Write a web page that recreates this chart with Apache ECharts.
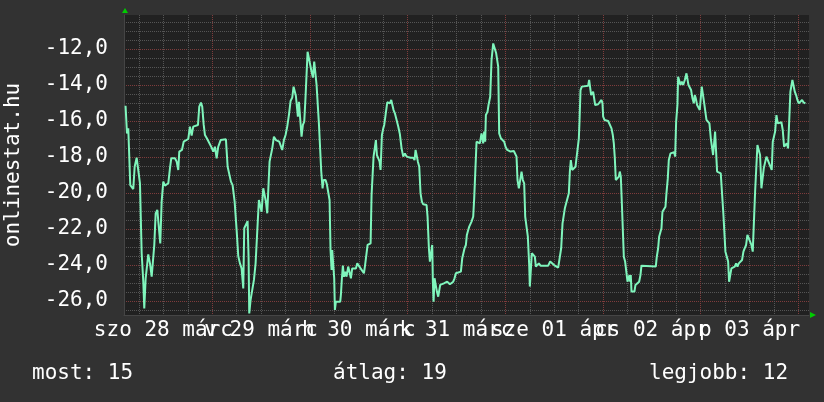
<!DOCTYPE html>
<html>
<head>
<meta charset="utf-8">
<script src="https://cdn.jsdelivr.net/npm/echarts@6/dist/echarts.min.js"></script>
<style>
html, body { margin: 0; padding: 0; background: #323232; }
#chart { width: 824px; height: 402px; }
</style>
</head>
<body>
<div id="chart"></div>
<script>
// hours since szo 28 márc 00:00
var hours = [
  2.7, 3.05, 3.37, 3.6, 3.86, 4.6, 4.94, 5.43, 5.92, 6.24, 6.66, 7.06, 7.3, 7.64, 7.96, 8.28, 8.7, 9.12, 9.36, 9.76,
  10.1, 10.5, 10.9, 11.23, 11.57, 11.97, 12.38, 12.8, 13.2, 13.61, 13.93, 14.84, 15.26, 15.65, 15.9, 16.56, 16.98, 18.11, 18.52, 18.94,
  19.33, 20.49, 20.81, 21.22, 21.54, 21.89, 22.21, 22.77, 23.26, 23.85, 24.25, 24.66, 25.08, 25.47, 26.06, 27.36, 27.78, 28.17, 28.59, 29.0,
  29.5, 29.99, 30.39, 30.8, 31.21, 31.62, 31.86, 32.27, 32.68, 32.93, 33.09, 33.42, 33.83, 34.24, 34.65, 35.05, 35.46, 35.87, 36.12, 36.53,
  36.94, 37.18, 37.51, 37.84, 38.08, 38.49, 38.74, 39.15, 39.64, 40.46, 40.87, 41.19, 41.6, 42.01, 42.42, 42.83, 43.24, 43.65, 43.98, 44.3,
  44.55, 44.8, 45.04, 45.29, 45.61, 45.94, 46.27, 46.6, 46.92, 47.17, 47.42, 47.82, 48.07, 48.4, 48.73, 49.05, 49.38, 49.63, 49.95, 50.2,
  50.53, 50.77, 51.1, 51.34, 51.84, 52.16, 52.49, 52.82, 53.06, 53.31, 53.47, 53.72, 53.96, 54.13, 54.37, 55.44, 55.6, 55.85, 56.09, 56.34,
  56.67, 56.99, 57.4, 57.81, 58.06, 58.38, 59.29, 59.62, 60.03, 60.44, 60.85, 61.26, 61.5, 61.91, 62.16, 62.9, 63.14, 63.39, 63.63, 63.96,
  64.2, 64.45, 64.78, 65.11, 65.35, 65.68, 66.01, 66.25, 66.66, 66.99, 67.32, 67.64, 67.97, 68.22, 68.54, 68.87, 69.28, 69.69, 70.1, 70.51,
  70.92, 71.33, 71.74, 72.72, 73.37, 73.7, 73.95, 74.27, 74.52, 74.85, 75.17, 75.5, 75.83, 76.65, 76.89, 77.22, 77.47, 77.79, 78.04, 78.2,
  78.37, 78.61, 78.94, 79.19, 79.51, 79.76, 80.0, 80.9, 81.72, 82.38, 83.2, 83.52, 83.85, 85.08, 85.41, 85.98, 86.31, 86.55, 86.88, 87.13,
  87.7, 88.11, 88.35, 88.68, 88.93, 89.74, 90.15, 90.56, 90.81, 91.05, 91.22, 91.63, 91.87, 92.28, 92.61, 93.02, 93.43, 93.75, 94.0, 94.25,
  94.49, 94.9, 95.72, 96.05, 96.46, 97.27, 97.6, 98.09, 98.5, 98.75, 98.99, 99.32, 99.65, 99.98, 100.3, 100.63, 100.88, 101.2, 101.53, 101.86,
  102.02, 102.35, 102.51, 102.92, 103.25, 103.5, 103.91, 104.23, 104.64, 106.53, 107.02, 107.51, 108.16, 108.98, 109.39, 109.72, 110.05, 110.37, 110.62, 111.11,
  111.6, 111.85, 112.09, 112.42, 112.91, 113.24, 113.48, 113.81, 114.06, 114.22, 114.47, 114.79, 115.2, 116.35, 116.59, 116.84, 117.08, 117.33, 117.57, 117.82,
  118.07, 118.8, 119.21, 119.62, 119.87, 120.03, 120.36, 121.26, 121.67, 122.08, 122.4, 122.65, 122.9, 123.14, 123.55, 123.88, 124.12, 124.37, 124.61, 124.86,
  125.11, 125.43, 125.76, 126.01, 126.25, 126.5, 126.66, 126.82, 126.99, 127.72, 127.97, 128.38, 128.87, 129.2, 129.44, 132.96, 133.21, 133.54, 133.78, 134.11,
  134.36, 134.6, 135.01, 135.34, 135.58, 135.91, 136.16, 136.57, 137.47, 137.71, 137.96, 138.28, 138.45, 138.78, 139.02, 139.35, 139.68, 140.09, 140.5, 140.74,
  140.99, 141.31, 141.64, 141.97, 142.3, 142.54, 142.79, 143.11, 143.44, 143.77, 144.01, 144.26, 144.67, 144.91, 145.16, 145.41, 145.81, 146.14, 146.47, 146.8,
  147.04, 147.29, 147.53, 147.78, 148.02, 148.92, 149.33, 149.58, 149.83, 150.07, 150.4, 150.73, 150.97, 151.3, 151.54, 151.95, 152.36, 152.69, 153.02, 153.35,
  153.75, 154.16, 154.49, 154.82, 155.15, 155.47, 155.8, 156.13, 156.46, 156.78, 157.11, 157.36, 157.68, 157.93, 158.26, 158.58, 158.91, 159.24, 159.49, 159.81,
  160.14, 160.47, 160.8, 161.12, 161.45, 161.7, 162.02, 162.27, 162.6, 162.92, 163.82, 164.15, 164.48, 164.81, 165.13, 165.46, 165.79, 166.03, 166.28, 166.52,
  166.85, 167.1, 167.43, 167.75, 168.08, 168.57, 168.9, 169.23, 169.72
]
var values = [
  -15.15, -16.69, -16.41, -16.44, -19.56, -19.78, -18.54, -18.04, -18.04, -19.46, -23.35, -24.93, -26.41, -24.74, -24.74, -23.41, -23.91, -24.65, -24.74, -22.89,
  -21.13, -20.94, -20.94, -22.8, -20.48, -19.37, -19.59, -19.59, -19.46, -18.63, -18.07, -18.07, -18.26, -18.72, -17.7, -17.61, -17.15, -17.0, -16.31, -16.81,
  -16.31, -16.22, -15.2, -14.98, -15.2, -16.19, -16.78, -17.0, -17.06, -17.48, -17.7, -17.43, -18.07, -17.43, -17.06, -17.02, -18.54, -18.63, -19.37, -19.56,
  -20.48, -22.06, -23.5, -23.91, -24.19, -25.3, -21.96, -21.87, -21.56, -23.63, -26.69, -25.94, -25.94, -24.83, -23.91, -22.15, -20.39, -20.39, -21.04, -19.74,
  -19.74, -20.48, -21.13, -21.13, -18.26, -18.17, -17.52, -16.87, -17.06, -17.15, -17.2, -17.61, -17.06, -16.78, -16.31, -15.67, -14.89, -14.7, -14.09, -14.06,
  -14.61, -14.65, -15.76, -14.93, -14.89, -16.87, -16.22, -16.04, -14.65, -14.56, -12.15, -12.15, -12.89, -13.26, -13.59, -12.7, -12.7, -14.0, -14.09, -16.13,
  -16.22, -18.78, -19.74, -19.28, -19.28, -19.52, -19.56, -20.39, -23.17, -24.28, -23.17, -23.17, -24.74, -26.5, -26.04, -26.04, -25.67, -24.74, -24.04, -24.65,
  -24.37, -24.65, -24.09, -24.19, -24.74, -24.19, -24.19, -23.91, -24.0, -24.19, -24.22, -24.46, -24.09, -24.09, -22.89, -22.8, -20.11, -20.02, -17.98, -17.98,
  -17.06, -17.89, -18.07, -18.26, -18.72, -16.78, -16.41, -16.22, -16.22, -14.96, -14.96, -15.02, -14.83, -14.78, -15.39, -15.57, -15.67, -16.31, -16.74, -17.52,
  -17.98, -17.8, -17.98, -18.04, -18.04, -18.17, -17.61, -17.61, -18.26, -18.54, -20.02, -20.48, -20.63, -20.67, -21.31, -23.07, -23.81, -23.81, -22.89, -24.93,
  -26.04, -24.74, -24.74, -25.48, -25.76, -25.67, -25.11, -25.02, -24.93, -25.07, -24.93, -24.74, -24.46, -24.37, -23.63, -23.07, -22.89, -22.33, -22.06, -21.87,
  -21.59, -21.31, -20.3, -20.2, -17.15, -17.24, -16.69, -17.24, -16.59, -17.15, -15.67, -15.48, -15.11, -14.65, -12.61, -11.69, -11.69, -12.24, -12.24, -12.98,
  -16.69, -16.96, -17.15, -17.43, -17.61, -17.7, -17.8, -17.67, -17.57, -17.98, -19.28, -19.74, -19.74, -18.81, -19.28, -19.46, -21.31, -21.41, -22.43, -24.0,
  -25.2, -25.2, -23.35, -23.35, -23.54, -24.09, -24.09, -23.91, -24.04, -24.04, -23.81, -23.81, -24.04, -24.15, -24.15, -23.07, -21.69, -21.59, -20.85, -20.76,
  -20.02, -18.81, -18.17, -18.72, -18.72, -18.54, -18.07, -18.07, -16.96, -16.04, -14.28, -14.09, -14.04, -14.04, -13.72, -13.72, -14.56, -14.56, -14.37, -14.37,
  -15.11, -15.07, -15.02, -14.83, -15.02, -15.76, -15.94, -16.0, -16.04, -16.41, -16.78, -17.24, -18.07, -19.28, -19.28, -19.09, -18.81, -19.09, -20.48, -20.48,
  -23.54, -23.81, -23.91, -24.93, -24.74, -24.56, -24.93, -24.56, -25.48, -25.48, -25.11, -25.02, -24.93, -24.56, -24.04, -24.09, -23.54, -23.07, -22.43, -22.43,
  -21.96, -21.04, -21.0, -20.76, -20.02, -19.19, -18.17, -17.8, -17.74, -17.98, -16.04, -15.11, -13.54, -13.54, -14.0, -13.81, -14.0, -13.72, -13.35, -13.35,
  -14.0, -14.09, -14.28, -14.74, -15.02, -14.56, -14.74, -15.11, -15.2, -15.39, -15.48, -14.09, -14.09, -15.11, -15.11, -15.94, -16.0, -16.13, -16.96, -17.06,
  -17.89, -17.98, -16.59, -16.59, -18.81, -18.91, -18.96, -21.22, -21.31, -23.26, -23.35, -23.81, -24.93, -24.93, -24.19, -24.19, -24.09, -23.91, -24.09, -23.91,
  -23.85, -23.72, -23.26, -23.07, -22.89, -22.33, -22.37, -22.7, -22.89, -23.26, -23.35, -19.93, -19.83, -17.33, -17.43, -17.89, -19.74, -19.74, -18.63, -18.59,
  -17.98, -17.98, -18.35, -18.26, -18.72, -17.15, -17.06, -16.59, -15.67, -16.13, -16.07, -16.5, -17.43, -17.43, -17.24, -17.52, -17.61, -14.37, -14.28, -13.72,
  -13.72, -14.37, -14.56, -14.83, -15.02, -15.02, -14.83, -14.96, -15.02
]

var dayTicks = [24, 48, 72, 96, 120, 144, 168]
var sixHourTicks = [6, 12, 18, 30, 36, 42, 54, 60, 66, 78, 84, 90, 102, 108, 114, 126, 132, 138, 150, 156, 162]
var dayLabelHours = [12, 36, 60, 84, 108, 132, 156]
var dayLabels = ['szo 28 márc', 'v 29 márc', 'h 30 márc', 'k 31 márc', 'sze 01 ápr', 'cs 02 ápr', 'p 03 ápr']
var yMajorTicks = [-26, -24, -22, -20, -18, -16, -14, -12]
var yMinorTicks = [-26.5, -25.5, -25, -24.5, -23.5, -23, -22.5, -21.5, -21, -20.5, -19.5, -19, -18.5,
  -17.5, -17, -16.5, -15.5, -15, -14.5, -13.5, -13, -12.5, -11.5, -11, -10.5]

var statNames = ['most', 'átlag', 'legjobb']
var statValues = [15, 19, 12]

var font = 'DejaVu Sans Mono'
var xMin = 2.32, xMax = 170.6
var yMin = -26.78, yMax = -10.11
var majorGrid = { color: '#7e3c3c', type: [1, 1], width: 1 }
var minorGrid = { color: '#555555', type: [1, 1], width: 1 }

// the day labels overlap like in rrdtool, so every other one goes on the second x axis
// (otherwise echarts drops the neighbour of the first/last label)
var evenLabelHours = dayLabelHours.filter(function (h, i) { return i % 2 === 0 })
var oddLabelHours = dayLabelHours.filter(function (h, i) { return i % 2 === 1 })
function dayLabel(v) { return dayLabels[dayLabelHours.indexOf(v)] }
var labelStyle = {
  showMinLabel: true, showMaxLabel: true, hideOverlap: false,
  formatter: dayLabel, color: '#ffffff', fontFamily: font, fontSize: 21, margin: 5
}

var chart = echarts.init(document.getElementById('chart'))
var statLeft = [32, 333, 649]

var option = {
  backgroundColor: '#323232',
  animation: false,
  grid: {
    left: 124, right: 15, top: 15, bottom: 87,
    show: true, backgroundColor: '#212121', borderWidth: 0,
    containLabel: false, outerBoundsMode: 'none'
  },
  xAxis: [{
    type: 'value', min: xMin, max: xMax, position: 'bottom',
    axisLine: { show: true, lineStyle: { color: '#454545' } },
    axisTick: { show: false, customValues: dayTicks },
    splitLine: { show: true, lineStyle: majorGrid },
    axisLabel: Object.assign({ customValues: evenLabelHours }, labelStyle)
  }, {
    type: 'value', min: xMin, max: xMax, position: 'bottom',
    axisLine: { show: false },
    axisTick: { show: false, customValues: sixHourTicks },
    axisLabel: Object.assign({ customValues: oddLabelHours }, labelStyle),
    splitLine: { show: true, lineStyle: minorGrid }
  }],
  yAxis: [{
    type: 'value', min: yMin, max: yMax, position: 'left',
    name: 'onlinestat.hu', nameLocation: 'middle', nameGap: 100, nameRotate: 90,
    nameTextStyle: { color: '#ffffff', fontFamily: font, fontSize: 21 },
    axisLine: { show: true, lineStyle: { color: '#454545' } },
    axisTick: { show: false, customValues: yMajorTicks },
    splitLine: { show: true, lineStyle: majorGrid },
    axisLabel: {
      customValues: yMajorTicks,
      formatter: function (v) { return v.toFixed(1).replace('.', ',') },
      showMinLabel: true, showMaxLabel: true,
      color: '#ffffff', fontFamily: font, fontSize: 21, margin: 16
    }
  }, {
    type: 'value', min: yMin, max: yMax, position: 'left',
    axisLine: { show: false },
    axisTick: { show: false, customValues: yMinorTicks },
    axisLabel: { show: false },
    splitLine: { show: true, lineStyle: minorGrid }
  }],
  series: [{
    type: 'line',
    xAxisIndex: 0, yAxisIndex: 0,
    data: hours.map(function (h, i) { return [h, values[i]] }),
    symbol: 'none',
    lineStyle: { color: '#7ff5bc', width: 2 },
    itemStyle: { color: '#7ff5bc' },
    z: 5
  }],
  graphic: [
    { type: 'polygon', shape: { points: [[122, 13], [128, 13], [125, 8]] }, style: { fill: '#00cc00' } },
    { type: 'polygon', shape: { points: [[810, 312], [810, 318], [816, 315]] }, style: { fill: '#00cc00' } }
  ].concat(statNames.map(function (n, i) {
    return {
      type: 'text', x: statLeft[i], y: 374,
      style: { text: n + ': ' + statValues[i], fill: '#ffffff', fontFamily: font, fontSize: 21, verticalAlign: 'middle' }
    }
  }))
}
chart.setOption(option)
</script>
</body>
</html>
